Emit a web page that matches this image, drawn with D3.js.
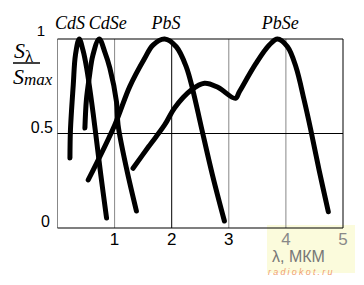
<!DOCTYPE html>
<html><head><meta charset="utf-8">
<script src="https://cdn.jsdelivr.net/npm/d3@7"></script>
<style>body{margin:0;background:#fff}svg{display:block}</style>
</head><body>
<svg id="c" width="364" height="285"></svg>
<script>
// Data (wavelength in µm, relative sensitivity)
const xTicks = [1, 2, 3, 4, 5];
const yTicks = [0, 0.5, 1];
const yTickLabels = ["0", "0.5", "1"];
const seriesNames = ["CdS", "CdSe", "PbS", "PbSe"];
const cdsX  = [0.218,0.227,0.276,0.314,0.38,0.445,0.51,0.597,0.672,0.759,0.859];
const cdsY  = [0.37,0.519,0.757,0.915,1.0,0.942,0.847,0.668,0.492,0.28,0.053];
const cdseX = [0.48,0.506,0.555,0.62,0.73,0.829,0.916,1.033,1.061,1.208,1.382];
const cdseY = [0.529,0.677,0.794,0.915,1.0,0.931,0.847,0.668,0.545,0.316,0.09];
const pbsX  = [0.538,1.003,1.265,1.527,1.672,1.876,2.08,2.255,2.37,2.517,2.714,2.923];
const pbsY  = [0.254,0.545,0.748,0.898,0.968,1.0,0.959,0.853,0.73,0.536,0.28,0.037];
const pbseX = [1.323,1.597,1.876,2.05,2.342,2.574,2.8,3.115,3.185,3.476,3.709,3.853,4.028,4.175,4.319,4.436,4.581,4.743];
const pbseY = [0.316,0.431,0.545,0.635,0.73,0.766,0.746,0.686,0.721,0.871,0.968,1.0,0.959,0.853,0.677,0.519,0.307,0.086];
const labelX = [0.22, 0.88, 1.9, 3.9];

const svg = d3.select("#c");
const x = d3.scaleLinear().domain([0,5]).range([57.5,343]);
const y = d3.scaleLinear().domain([0,1]).range([228,39]);
const serif = "'Liberation Serif', 'Times New Roman', serif";
const sans = "'Liberation Sans', Arial, sans-serif";

// watermark background
svg.append("rect").attr("x",267).attr("y",225).attr("width",88).attr("height",48).attr("fill","#fbfbdc");

// grid verticals
const vx = [0,1,2,3,4,5];
svg.selectAll("line.v").data(vx).join("line")
  .attr("x1",d=>x(d)).attr("x2",d=>x(d)).attr("y1",y(1)).attr("y2",y(0))
  .attr("stroke",d=>(d===2||d===5)?"#000":"#888").attr("stroke-width",1);
// horizontals
svg.selectAll("line.h").data(yTicks).join("line")
  .attr("x1",x(0)).attr("x2",x(5)).attr("y1",d=>y(d)).attr("y2",d=>y(d))
  .attr("stroke","#000").attr("stroke-width",1.2);

// x tick labels
svg.selectAll("text.xt").data(xTicks).join("text")
  .attr("x",d=>x(d)).attr("y",245).attr("text-anchor","middle")
  .attr("font-family",sans).attr("font-size",17)
  .attr("fill",d=>d>=4?"#888":"#000").text(d=>d);
// y tick labels
const yLabPos = [[50,227],[53,133],[45,36]];
svg.selectAll("text.yt").data(yTicks).join("text")
  .attr("x",(d,i)=>yLabPos[i][0]).attr("y",(d,i)=>yLabPos[i][1]).attr("text-anchor","end")
  .attr("font-family",sans).attr("font-size",(d,i)=>i===2?15:16)
  .text((d,i)=>yTickLabels[i]);

// curves
const line = d3.line().x(d=>x(d[0])).y(d=>y(d[1])).curve(d3.curveCatmullRom.alpha(0.5));
const series = [[cdsX,cdsY],[cdseX,cdseY],[pbsX,pbsY],[pbseX,pbseY]];
svg.selectAll("path.s").data(series).join("path")
  .attr("d",s=>line(s[0].map((v,i)=>[v,s[1][i]])))
  .attr("fill","none").attr("stroke","#000").attr("stroke-width",5)
  .attr("stroke-linecap","round").attr("stroke-linejoin","round");

// series labels
svg.selectAll("text.sl").data(seriesNames).join("text")
  .attr("x",(d,i)=>x(labelX[i])).attr("y",29).attr("text-anchor","middle")
  .attr("font-family",serif).attr("font-style","italic")
  .attr("font-size",18).text(d=>d);

// y axis title fraction
const ft = svg.append("g").attr("font-family",serif);
const t1 = ft.append("text").attr("x",14).attr("y",58).attr("font-size",22).attr("font-style","italic");
t1.append("tspan").text("S");
t1.append("tspan").attr("font-size",17).attr("dy",4).attr("font-style","normal").text("λ");
svg.append("line").attr("x1",13).attr("x2",40).attr("y1",63).attr("y2",63).attr("stroke","#000").attr("stroke-width",1.5);
const t2 = ft.append("text").attr("x",13).attr("y",84).attr("font-size",22).attr("font-style","italic");
t2.append("tspan").text("S");
t2.append("tspan").attr("font-size",17).attr("dy",1).text("max");

// x axis title
svg.append("text").attr("x",272).attr("y",262).attr("font-family",sans)
  .attr("font-size",16).attr("fill","#777").text("λ, МКМ");
svg.append("text").attr("x",268).attr("y",275).attr("font-family",sans)
  .attr("font-size",9).attr("font-style","italic").attr("letter-spacing",2.2).attr("fill","#f0a070").text("radiokot.ru");
</script>
</body></html>
